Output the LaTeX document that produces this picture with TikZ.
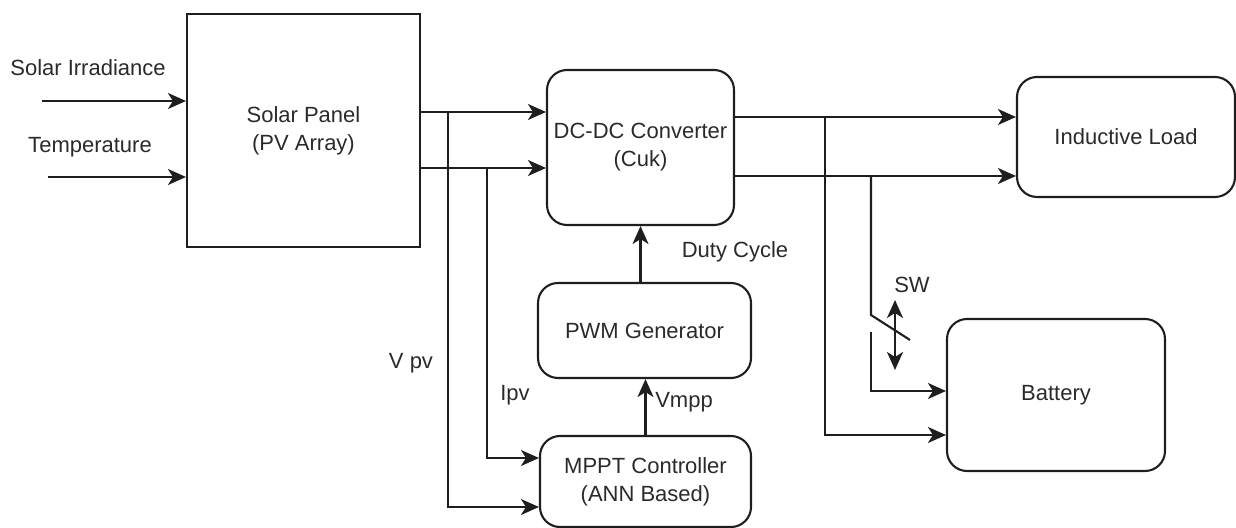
\documentclass[tikz,border=0pt]{standalone}
\usepackage{fontspec}
\setmainfont{Liberation Sans}
\usepackage{xcolor}
\usepackage{tikz}
\usetikzlibrary{arrows.meta}
\definecolor{clrLine}{HTML}{1E1E1E}
\definecolor{clrText}{HTML}{2A2A2A}
\tikzset{
  sys box/.style={rectangle, draw=clrLine, line width=1.05pt, align=center, font=\fontsize{11}{14}\selectfont, text=clrText},
  sys round/.style={sys box, rounded corners=10pt},
  lbl/.style={font=\fontsize{11}{14}\selectfont, text=clrText},
  wire/.style={line width=1.05pt, draw=clrLine},
  arr/.style={wire, -{Stealth[length=9pt, width=8pt, inset=2.5pt]}},
  darr/.style={wire, {Stealth[length=9pt, width=8pt, inset=2.5pt]}-{Stealth[length=9pt, width=8pt, inset=2.5pt]}},
}

\begin{document}
\begin{tikzpicture}[x=0.5pt, y=-0.5pt]
  \useasboundingbox (0,0) rectangle (1236,528);

  % Blocks
  \node[sys box, minimum width=116.5pt, minimum height=116.5pt] (panel) at (303.5,130.5) {Solar Panel\\(PV Array)};
  \node[sys round, minimum width=93.5pt, minimum height=77.5pt] (conv) at (640.5,147.5) {DC-DC Converter\\(Cuk)};
  \node[sys round, minimum width=109pt, minimum height=60pt] (load) at (1126,137) {Inductive Load};
  \node[sys round, minimum width=106.5pt, minimum height=47.5pt] (pwm) at (644.5,330.5) {PWM Generator};
  \node[sys round, minimum width=105.5pt, minimum height=45.5pt] (mppt) at (645.5,481.5) {MPPT Controller\\(ANN Based)};
  \node[sys round, minimum width=109pt, minimum height=76pt] (bat) at (1056,395) {Battery};

  % Labels
  \node[lbl] (irrLbl) at (88,68) {Solar Irradiance};
  \node[lbl] (tempLbl) at (90,147) {Temperature};
  \node[lbl] (dutyLbl) at (735,252) {Duty Cycle};
  \node[lbl] (vpvLbl) at (411,363) {V pv};
  \node[lbl] (ipvLbl) at (515,395) {Ipv};
  \node[lbl] (vmppLbl) at (684,402) {Vmpp};
  \node[lbl] (swLbl) at (912,285) {SW};

  % Taps and switch points
  \coordinate (irrIn) at (42,101);
  \coordinate (tempIn) at (48,177);
  \coordinate (pvV) at (448,112);
  \coordinate (pvI) at (487,168);
  \coordinate (outA) at (825,117);
  \coordinate (outB) at (871,176);
  \coordinate (swTop) at (871,315);
  \coordinate (swEnd) at (910,340);
  \coordinate (swBot) at (871,332);
  \coordinate (swUp) at (895,300);
  \coordinate (swDn) at (895,370);

  % Inputs
  \draw[arr] (irrIn) -- (panel.west |- irrIn);
  \draw[arr] (tempIn) -- (panel.west |- tempIn);

  % PV side
  \draw[arr] (panel.east |- pvV) -- (conv.west |- pvV);
  \draw[arr] (panel.east |- pvI) -- (conv.west |- pvI);
  \draw[arr] (pvV) |- ([yshift=-12.75pt]mppt.west);
  \draw[arr] (pvI) |- ([yshift=11.75pt]mppt.west);

  % Control loop
  \draw[arr] (mppt.north) -- (mppt.north |- pwm.south);
  \draw[arr] (conv.south |- pwm.north) -- (conv.south);

  % Output side
  \draw[arr] (conv.east |- outA) -- (load.west |- outA);
  \draw[arr] (conv.east |- outB) -- (load.west |- outB);
  \draw[arr] (outA) |- ([yshift=-20pt]bat.west);
  \draw[wire] (outB) -- (swTop) -- (swEnd);
  \draw[arr] (swBot) |- ([yshift=2pt]bat.west);
  \draw[darr] (swUp) -- (swDn);
\end{tikzpicture}
\end{document}
